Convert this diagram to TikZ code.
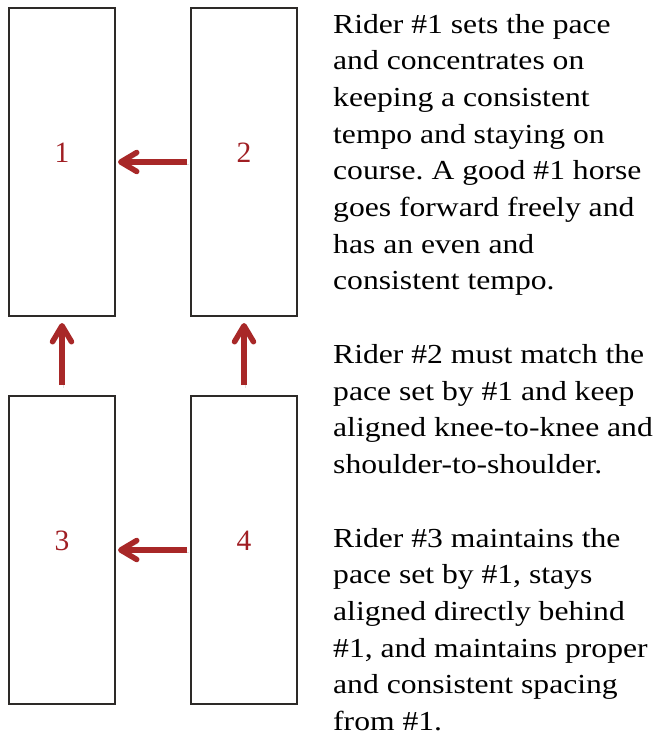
\documentclass[tikz,border=0pt]{standalone}
\usepackage{fontspec}
\setmainfont{Liberation Serif}
\newfontfamily\widefont[FakeStretch=1.15]{Liberation Serif}
\usetikzlibrary{arrows.meta}
\definecolor{arrowred}{RGB}{168,40,40}
\definecolor{numred}{RGB}{160,30,35}
\definecolor{boxline}{RGB}{45,42,40}
\tikzset{
  seatbox/.style={draw=boxline, line width=2pt, fill=white, minimum width=106pt, minimum height=308pt, inner sep=0pt},
  seatnum/.style={text=numred, font=\fontsize{29.5}{29.5}\selectfont, inner sep=0pt},
  moveto/.style={draw=arrowred, line width=5.5pt,
    -{Straight Barb[length=16pt,width=19pt,round]},
    preaction={draw=black!35, opacity=0.35, transform canvas={shift={(1.5pt,-2.5pt)}}}},
  desc/.style={anchor=base west, inner sep=0pt}
}
\newcommand{\paratext}[1]{\parbox[t]{330pt}{\widefont\frenchspacing\fontsize{27.5}{36.7}\selectfont\raggedright #1}}
\begin{document}
\begin{tikzpicture}[x=1pt,y=1pt]
\useasboundingbox (0,0) rectangle (659,-736);
\node[seatbox, label={[seatnum, yshift=9pt]center:1}] (b1) at (62,-162) {};
\node[seatbox, label={[seatnum, yshift=9pt]center:2}] (b2) at (244,-162) {};
\node[seatbox, label={[seatnum, yshift=9pt]center:3}] (b3) at (62,-550) {};
\node[seatbox, label={[seatnum, yshift=9pt]center:4}] (b4) at (244,-550) {};
\draw[moveto] ([xshift=-3pt]b2.west) -- ([xshift=2pt]b1.east);
\draw[moveto] ([xshift=-3pt]b4.west) -- ([xshift=2pt]b3.east);
\draw[moveto] ([yshift=10pt]b3.north) -- ([yshift=-6pt]b1.south);
\draw[moveto] ([yshift=10pt]b4.north) -- ([yshift=-6pt]b2.south);
\node[desc] (t1) at (333,-33) {\paratext{Rider \#1 sets the pace\\and concentrates on\\keeping a consistent\\tempo and staying on\\course. A good \#1 horse\\goes forward freely and\\has an even and\\consistent tempo.}};
\node[desc] (t2) at (333,-363.5) {\paratext{Rider \#2 must match the\\pace set by \#1 and keep\\aligned knee-to-knee and\\shoulder-to-shoulder.}};
\node[desc] (t3) at (333,-547) {\paratext{Rider \#3 maintains the\\pace set by \#1, stays\\aligned directly behind\\\#1, and maintains proper\\and consistent spacing\\from \#1.}};
\end{tikzpicture}
\end{document}
